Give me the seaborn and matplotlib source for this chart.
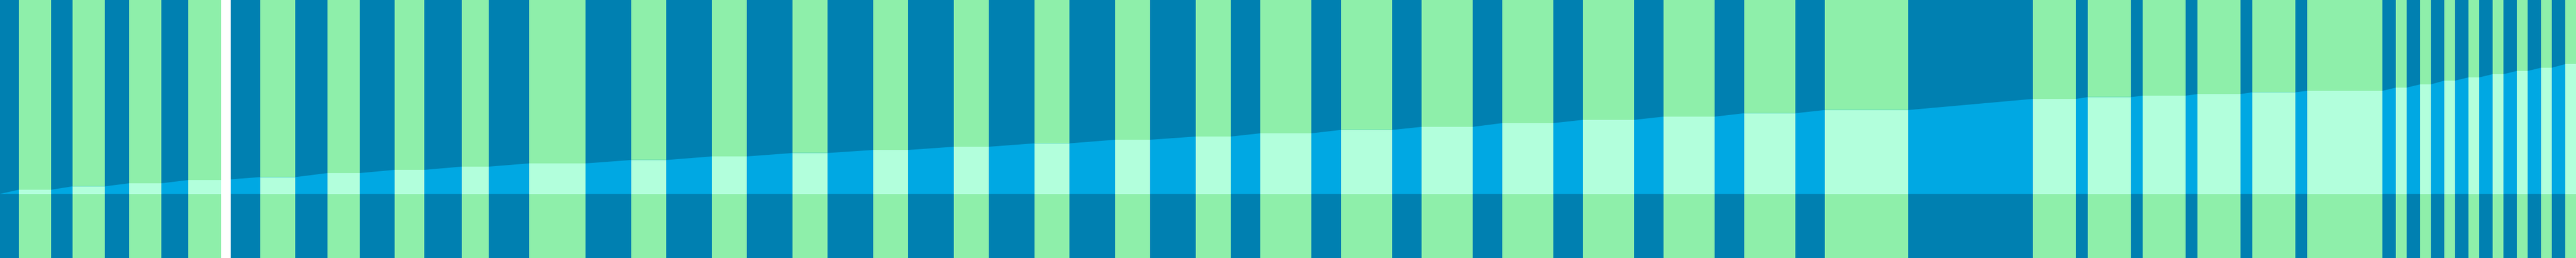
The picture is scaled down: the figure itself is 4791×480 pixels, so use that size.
import numpy as np
import seaborn as sns
import matplotlib
matplotlib.use("Agg")
import matplotlib.pyplot as plt

# green intervals (start, end) and the level reached in each of them
green_start = [35, 135, 240, 350, 484, 609, 734, 859, 984, 1174, 1324, 1474, 1624,
               1774, 1924, 2074, 2224, 2344, 2494, 2644, 2794, 2944, 3094, 3244,
               3394, 3781, 3883, 3985, 4087, 4189, 4291, 4456, 4501, 4546, 4591,
               4636, 4681, 4726, 4771]
green_end = [95, 195, 300, 411, 549, 669, 789, 909, 1089, 1239, 1389, 1539, 1689,
             1839, 1989, 2139, 2289, 2439, 2589, 2739, 2889, 3039, 3189, 3339,
             3549, 3861, 3963, 4065, 4167, 4269, 4431, 4476, 4521, 4566, 4611,
             4656, 4701, 4746, 4791]
levels = [7.7, 14, 19.7, 25.7, 31.2, 38.7, 44.7, 50.7, 56.7, 63, 69.7, 76, 81.7,
          87.7, 94, 100.7, 106.7, 112.7, 119, 124.7, 131.7, 137.7, 143.7, 150,
          156, 176.7, 180, 182.7, 185.7, 189, 191.7, 197.7, 203.7, 210.7, 216.7,
          222.7, 228.7, 234.7, 241.4]

# blank gap in the record
gap_start = 411
gap_end = 429

x_min, x_max = 0, 4791

DARK = "#0080B1"
GREEN = "#8EEFAA"
LIGHT_BLUE = "#00A8E3"
MINT = "#B2FFDC"


def main():
    sns.set_style("white")

    fig = plt.figure(figsize=(47.91, 4.8), dpi=100, facecolor=DARK)
    ax = fig.add_axes([0, 0, 1, 1])

    starts = np.array(green_start)
    ends = np.array(green_end)
    lv = np.array(levels)
    widths = ends - starts

    # dark background over the whole range
    ax.axvspan(x_min, x_max, color=DARK, lw=0)

    # full height green stripes
    for s, e in zip(starts, ends):
        ax.axvspan(s, e, color=GREEN, lw=0)

    # area: ramps between the green intervals, flat inside them
    xs = [x_min]
    ys = [0]
    for s, e, h in zip(starts, ends, lv):
        xs += [s, e]
        ys += [h, h]
    ax.fill_between(xs, 0, ys, color=LIGHT_BLUE, lw=0)
    ax.bar(starts, lv, width=widths, align="edge", color=MINT, lw=0)

    ax.axvspan(gap_start, gap_end, color="white", lw=0)

    ax.set_xlim(x_min, x_max)
    ax.set_ylim(-119.3, 360.7)
    ax.axis("off")

    fig.savefig("out.png", dpi=100, facecolor=DARK)


if __name__ == "__main__":
    main()
